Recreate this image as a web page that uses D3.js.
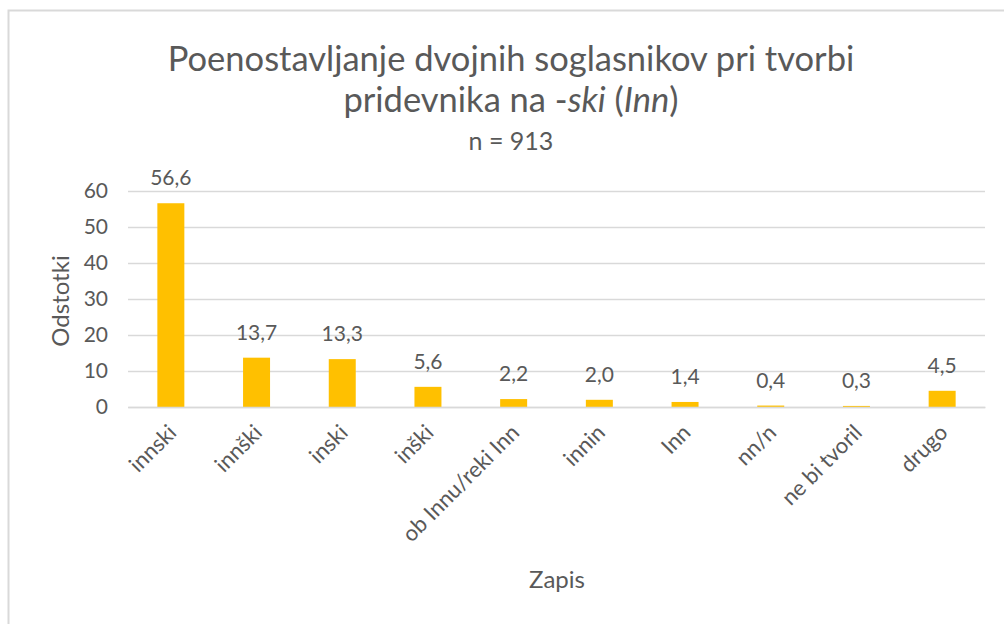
<!DOCTYPE html>
<html><head><meta charset="utf-8">
<script src="https://cdn.jsdelivr.net/npm/d3@7"></script>
<style>body{margin:0;background:#fff}svg{display:block}text{font-family:Lato,"Open Sans",sans-serif;fill:#595959}</style>
</head><body><svg id="c" width="1004" height="624"></svg>
<script>
const categories=["innski","innški","inski","inški","ob Innu/reki Inn","innin","Inn","nn/n","ne bi tvoril","drugo"];
const values=[56.6,13.7,13.3,5.6,2.2,2.0,1.4,0.4,0.3,4.5];
const labels=["56,6","13,7","13,3","5,6","2,2","2,0","1,4","0,4","0,3","4,5"];
const yTicks=[0,10,20,30,40,50,60];

const svg=d3.select("#c");
svg.append("rect").attr("x",8.5).attr("y",10.5).attr("width",1010).attr("height",630).attr("fill","#fff").attr("stroke","#d9d9d9").attr("stroke-width",2);
const m={l:128,r:985,t:191,b:407};
const x=d3.scaleBand().domain(categories).range([m.l,m.r]).paddingInner(0.685).paddingOuter(0.3425);
const y=d3.scaleLinear().domain([0,60]).range([m.b,m.t]);

const ya=svg.append("g").attr("transform",`translate(${m.l},0)`).call(d3.axisLeft(y).tickValues(yTicks).tickSize(-(m.r-m.l)).tickPadding(20));
ya.select(".domain").remove();
ya.selectAll("line").attr("stroke","#d9d9d9").attr("stroke-width",1.5);
ya.selectAll("text").attr("font-size",21).style("fill","#595959").attr("font-family","Lato");

svg.selectAll("rect.bar").data(values).join("rect").attr("class","bar")
 .attr("x",(d,i)=>x(categories[i])).attr("width",x.bandwidth())
 .attr("y",d=>y(d)).attr("height",d=>y(0)-y(d)).attr("fill","#FFC000");

svg.selectAll("text.dl").data(values).join("text").attr("class","dl")
 .attr("x",(d,i)=>x(categories[i])+x.bandwidth()/2).attr("y",d=>y(d)-18)
 .attr("text-anchor","middle").attr("font-size",21).text((d,i)=>labels[i]);

const xa=svg.append("g").attr("transform",`translate(0,${m.b})`).call(d3.axisBottom(x).tickSize(0).tickPadding(0));
xa.select(".domain").attr("stroke","#d9d9d9").attr("stroke-width",1.5);
xa.selectAll("text").attr("font-size",22).style("fill","#595959").attr("font-family","Lato")
 .attr("text-anchor","end").attr("dy",null).attr("y",null)
 .attr("transform","translate(7,27) rotate(-45)");

svg.append("text").attr("x",511).attr("y",71).attr("text-anchor","middle").attr("font-size",34.5).text("Poenostavljanje dvojnih soglasnikov pri tvorbi");
const t2=svg.append("text").attr("x",511).attr("y",112).attr("text-anchor","middle").attr("font-size",34.5);
t2.append("tspan").text("pridevnika na -");
t2.append("tspan").attr("font-style","italic").text("ski");
t2.append("tspan").text(" (");
t2.append("tspan").attr("font-style","italic").text("Inn");
t2.append("tspan").text(")");
svg.append("text").attr("x",511).attr("y",150).attr("text-anchor","middle").attr("font-size",25).text("n = 913");
svg.append("text").attr("transform","translate(69,301) rotate(-90)").attr("text-anchor","middle").attr("font-size",24).text("Odstotki");
svg.append("text").attr("x",557).attr("y",588).attr("text-anchor","middle").attr("font-size",24).text("Zapis");
</script></body></html>
